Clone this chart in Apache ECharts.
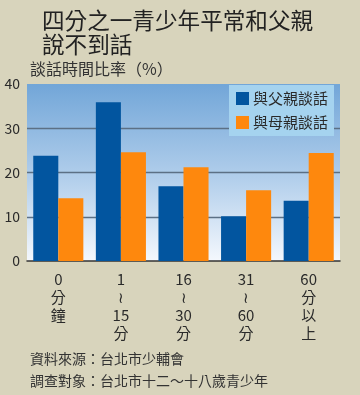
<!DOCTYPE html>
<html><head><meta charset="utf-8">
<script src="https://cdn.jsdelivr.net/npm/echarts@6/dist/echarts.min.js"></script>
<style>html,body{margin:0;padding:0;background:#d8d4bc;}#c{width:360px;height:395px;}</style>
</head><body><div id="c"></div>
<script>
var categories = ['0\n分\n鐘', '1\n≀\n15\n分', '16\n≀\n30\n分', '31\n≀\n60\n分', '60\n分\n以\n上'];
var fatherValues = [23.8, 35.9, 16.9, 10.1, 13.6];
var motherValues = [14.2, 24.6, 21.2, 16.0, 24.4];
var seriesNames = ['與父親談話', '與母親談話'];
var yTicks = [0, 10, 20, 30, 40];
var titleLines = ['四分之一青少年平常和父親', '說不到話'];
var yAxisName = '談話時間比率（%）';
var footerLines = ['資料來源：台北市少輔會', '調查對象：台北市十二～十八歲青少年'];

var FONT = '"Noto Sans CJK TC", "Noto Sans", sans-serif';
var chart = echarts.init(document.getElementById('c'), null, {renderer: 'canvas'});
var gridLineColors = yTicks.map(function (v, i) { return (i === 0 || i === yTicks.length - 1) ? 'rgba(0,0,0,0)' : '#5c7085'; });
chart.setOption({
  backgroundColor: '#d8d4bc',
  animation: false,
  textStyle: {fontFamily: FONT},
  grid: {
    left: 27, right: 20, top: 84, bottom: 134, show: true, borderWidth: 0,
    backgroundColor: new echarts.graphic.LinearGradient(0, 0, 0, 1, [
      {offset: 0, color: '#72a6d8'},
      {offset: 0.55, color: '#b4d0ec'},
      {offset: 1, color: '#f4f8fd'}
    ])
  },
  legend: {
    orient: 'vertical', right: 26, top: 85,
    backgroundColor: '#a5d3ef', padding: [6, 6, 6, 7],
    itemWidth: 13, itemHeight: 13, itemGap: 9, icon: 'rect',
    textStyle: {fontSize: 15, color: '#2a2a2a', fontFamily: FONT, padding: [0, 0, 0, -1]},
    data: seriesNames
  },
  xAxis: {
    type: 'category', data: categories,
    axisLine: {lineStyle: {color: '#333', width: 1.5}},
    axisTick: {inside: true, length: 5, lineStyle: {color: '#333', width: 1.2}},
    axisLabel: {fontSize: 15, lineHeight: 18, color: '#2a2a2a', margin: 9, fontFamily: FONT}
  },
  yAxis: {
    type: 'value', min: yTicks[0], max: yTicks[yTicks.length - 1], interval: 10,
    axisLine: {show: false}, axisTick: {show: false},
    axisLabel: {fontSize: 14, color: '#2a2a2a', margin: 7, fontFamily: FONT},
    splitLine: {show: true, lineStyle: {color: gridLineColors, width: 1.3}}
  },
  series: [
    {name: seriesNames[0], type: 'bar', data: fatherValues, barGap: '0%', barCategoryGap: '20%', itemStyle: {color: '#02559f'}},
    {name: seriesNames[1], type: 'bar', data: motherValues, barGap: '0%', barCategoryGap: '20%', itemStyle: {color: '#fe880d'}}
  ],
  graphic: [
    {type: 'text', left: 42, top: 9, style: {text: titleLines[0], fontSize: 22.6, fill: '#222', fontFamily: FONT}},
    {type: 'text', left: 42, top: 33, style: {text: titleLines[1], fontSize: 22.6, fill: '#222', fontFamily: FONT}},
    {type: 'text', left: 30, top: 61, style: {text: yAxisName, fontSize: 16, fill: '#333', fontFamily: FONT}},
    {type: 'text', left: 30, top: 352, style: {text: footerLines[0], fontSize: 14, fill: '#333', fontFamily: FONT}},
    {type: 'text', left: 30, top: 374, style: {text: footerLines[1], fontSize: 14, fill: '#333', fontFamily: FONT}}
  ]
});
</script></body></html>
